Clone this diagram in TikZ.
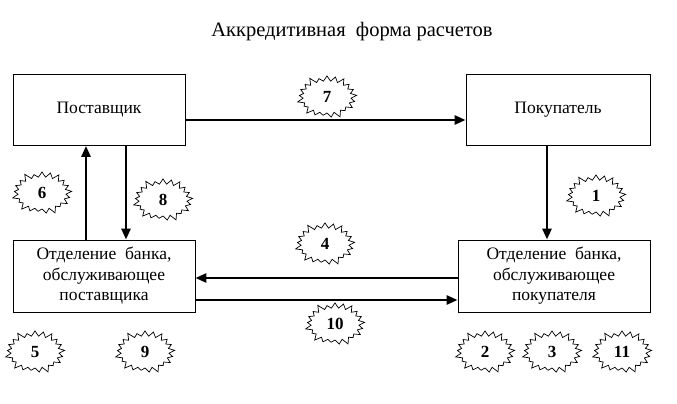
\documentclass[tikz,border=0pt]{standalone}
\usepackage{fontspec}
\setmainfont{Liberation Serif}[BoldFont={Liberation Serif Bold}]
\usetikzlibrary{shapes.symbols,arrows.meta}
\tikzset{
  box/.style={draw,line width=0.8pt,align=center,font=\fontsize{17.5}{20.5}\selectfont,inner sep=0pt},
  burst/.style={draw,fill=white,starburst,starburst points=21,starburst point height=7pt,
    minimum width=62pt,minimum height=46pt,inner sep=0pt,line width=0.7pt,font=\bfseries\fontsize{17}{20}\selectfont},
  arr/.style={line width=2.6pt,-{Triangle[length=11pt,width=9pt]}}
}
\begin{document}
\begin{tikzpicture}[x=1pt,y=-1pt]
\useasboundingbox (0,0) rectangle (677,404);
\node[font=\fontsize{20.5}{22}\selectfont] (title) at (352,32) {Аккредитивная\ \ форма расчетов};
\node[box,minimum width=172pt,minimum height=71pt] (sup) at (99,110) {Поставщик};
\node[box,minimum width=184pt,minimum height=71pt] (buy) at (558,110) {Покупатель};
\node[box,minimum width=182pt,minimum height=72pt] (bs) at (104,276) {Отделение\ \ банка,\\обслуживающее\\поставщика};
\node[box,minimum width=192pt,minimum height=72pt] (bb) at (554,276) {Отделение\ \ банка,\\обслуживающее\\покупателя};
\node[burst] (n7) at (327,97) {7};
\node[burst] (n6) at (42,193) {6};
\node[burst] (n8) at (163,200) {8};
\node[burst] (n1) at (596,196) {1};
\node[burst] (n4) at (325,244) {4};
\node[burst] (n10) at (335,324) {10};
\node[burst] (n5) at (35,352) {5};
\node[burst] (n9) at (145,352) {9};
\node[burst] (n2) at (485,352) {2};
\node[burst] (n3) at (552,352) {3};
\node[burst] (n11) at (622,352) {11};
\draw[arr] (sup.east |- 0,120) -- (buy.west |- 0,120);
\draw[arr] (bs.north -| 86,0) -- (sup.south -| 86,0);
\draw[arr] (sup.south -| 126,0) -- (bs.north -| 126,0);
\draw[arr] (buy.south -| 547,0) -- (bb.north -| 547,0);
\draw[arr] (bb.west |- 0,278) -- (bs.east |- 0,278);
\draw[arr] (bs.east |- 0,300) -- (bb.west |- 0,300);
\end{tikzpicture}
\end{document}
